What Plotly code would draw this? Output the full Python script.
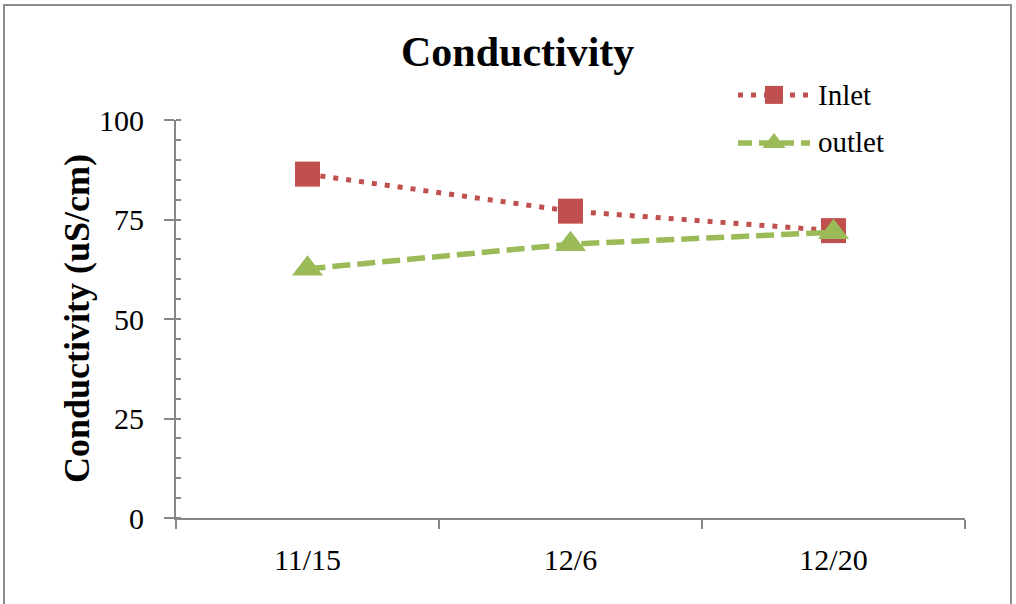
import plotly.graph_objects as go

# Sampling dates and measured conductivity (uS/cm)
dates = ["11/15", "12/6", "12/20"]
inlet = [86.4, 77.1, 72.2]
outlet = [62.6, 68.8, 71.8]
y_ticks = [0, 25, 50, 75, 100]

W, H = 1016, 604
RED = "#C0504D"
GREEN = "#9BBB59"
AXIS = "#868686"
SERIF = "Liberation Serif, Times New Roman, serif"

# plot-area bounds in pixels
px_left, px_right, px_top, px_bottom = 176, 965, 120, 518


def fx(px):
    return px / W


def fy(py):
    return (H - py) / H


fig = go.Figure()

fig.add_trace(go.Scatter(
    x=dates, y=inlet, name="Inlet", mode="lines+markers",
    line=dict(color=RED, width=5, dash="5px,8px"),
    marker=dict(symbol="square", size=25, color=RED),
))
fig.add_trace(go.Scatter(
    x=dates, y=outlet, name="outlet", mode="lines+markers",
    line=dict(color=GREEN, width=5.5, dash="18px,7px"),
    marker=dict(symbol="triangle-up", size=27, color=GREEN),
))

# legend samples drawn on their own small axes: a line, then a marker on top
legend_styles = [
    (1, dict(color=RED, width=5, dash="5px,8px"), dict(symbol="square", size=18, color=RED)),
    (0, dict(color=GREEN, width=5.5, dash="14px,7px"), dict(symbol="triangle-up", size=20, color=GREEN)),
]
for row, line_style, marker_style in legend_styles:
    fig.add_trace(go.Scatter(
        x=[0, 1], y=[row, row], xaxis="x2", yaxis="y2", mode="lines",
        line=line_style, hoverinfo="skip",
    ))
    fig.add_trace(go.Scatter(
        x=[0.5], y=[row], xaxis="x2", yaxis="y2", mode="markers",
        marker=marker_style, hoverinfo="skip",
    ))

fig.update_layout(
    width=W, height=H, autosize=False,
    margin=dict(l=0, r=0, t=0, b=0, pad=0, autoexpand=False),
    showlegend=False,
    paper_bgcolor="white", plot_bgcolor="white",
    font=dict(family=SERIF, color="black", size=30),
    xaxis=dict(
        domain=[fx(px_left), fx(px_right)],
        type="category", range=[-0.5, 2.5], automargin=False,
        showline=True, linecolor=AXIS, linewidth=2,
        ticks="outside", ticklen=9, tickwidth=2, tickcolor=AXIS,
        tickson="boundaries", showgrid=False, zeroline=False,
        tickfont=dict(size=30), ticklabelstandoff=14,
        fixedrange=True,
    ),
    yaxis=dict(
        domain=[fy(px_bottom), fy(px_top)],
        range=[0, 100], tickvals=y_ticks, automargin=False,
        showline=True, linecolor=AXIS, linewidth=2,
        ticks="outside", ticklen=10, tickwidth=2, tickcolor=AXIS,
        minor=dict(ticks="inside", ticklen=5, tickwidth=2, tickcolor=AXIS, dtick=5),
        showgrid=False, zeroline=False,
        tickfont=dict(size=30), ticklabelstandoff=14,
        fixedrange=True,
    ),
    xaxis2=dict(domain=[fx(738), fx(810)], range=[0, 1], visible=False,
                anchor="y2", fixedrange=True, automargin=False),
    yaxis2=dict(domain=[fy(160), fy(78)], range=[-0.35, 1.35], visible=False,
                anchor="x2", fixedrange=True, automargin=False),
    shapes=[dict(type="rect", xref="paper", yref="paper",
                 x0=fx(4), x1=fx(1011), y0=-0.05, y1=fy(5),
                 line=dict(color="#8C8C8C", width=2), fillcolor="rgba(0,0,0,0)")],
    annotations=[
        dict(text="<b>Conductivity</b>", x=fx(517), y=fy(52), xref="paper", yref="paper",
             showarrow=False, font=dict(size=42), xanchor="center", yanchor="middle"),
        dict(text="<b>Conductivity (uS/cm)</b>", x=fx(77), y=fy(319), xref="paper",
             yref="paper", showarrow=False, textangle=-90, font=dict(size=36),
             xanchor="center", yanchor="middle"),
        dict(text="Inlet", x=fx(816), y=fy(95), xref="paper", yref="paper",
             showarrow=False, xanchor="left", yanchor="middle", font=dict(size=29)),
        dict(text="outlet", x=fx(816), y=fy(142), xref="paper", yref="paper",
             showarrow=False, xanchor="left", yanchor="middle", font=dict(size=29)),
    ],
)

fig.write_html("out.html")
